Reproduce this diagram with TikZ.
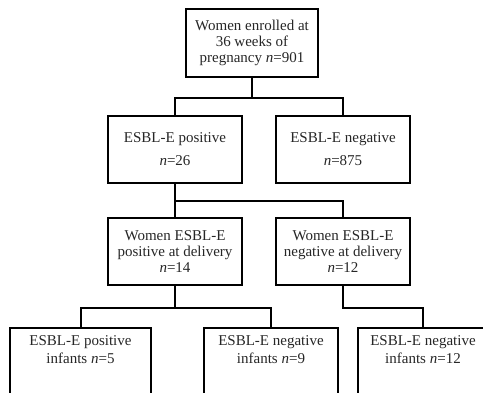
\documentclass[tikz,border=0pt]{standalone}
\usepackage{fontspec}
\setmainfont{Liberation Serif}
\usetikzlibrary{positioning}

\begin{document}
\begin{tikzpicture}[
  x=1pt, y=-1pt,
  box/.style={draw, line width=2pt, align=center, minimum width=134pt, minimum height=67pt, inner sep=2pt, text=black!85, font=\fontsize{15}{16.3}\selectfont},
  infant/.style={box, anchor=north, minimum height=0pt, inner ysep=7.5pt, text depth=48pt, font=\fontsize{15}{18.3}\selectfont},
  link/.style={line width=2pt}
]
\useasboundingbox (0,0) rectangle (483,392);

% Enrolment and first split
\node[box, minimum width=132pt, minimum height=67.5pt] (enrol) at (252,43) {Women enrolled at\\36 weeks of\\pregnancy \textit{n}=901};
\node[box] (pos) at (175,149.5) {ESBL-E positive\\[6.5pt]\textit{n}=26};
\node[box, right=32pt of pos] (neg) {ESBL-E negative\\[6.5pt]\textit{n}=875};

% At delivery
\node[box, below=33pt of pos] (wpos) {Women ESBL-E\\positive at delivery\\\textit{n}=14};
\node[box, below=33pt of neg] (wneg) {Women ESBL-E\\negative at delivery\\\textit{n}=12};

% Infants (boxes run off the bottom edge)
\node[infant, minimum width=141pt] (inf5) at (80.5,327) {ESBL-E positive\\infants \textit{n}=5};
\node[infant] (inf9) at (271,327) {ESBL-E negative\\infants \textit{n}=9};
\node[infant, minimum width=130pt] (inf12) at (423,327) {ESBL-E negative\\infants \textit{n}=12};

% Tree connectors
\draw[link] (enrol.south) -- ++(0,20) -| (pos.north);
\draw[link] (enrol.south) -- ++(0,20) -| (neg.north);
\draw[link] (pos.south) -- (wpos.north);
\draw[link] (pos.south) -- ++(0,17) -| (wneg.north);
\draw[link] (wpos.south) -- ++(0,22) -| (inf5.north);
\draw[link] (wpos.south) -- ++(0,22) -| (inf9.north);
\draw[link] (wneg.south) -- ++(0,22) -| (inf12.north);

\end{tikzpicture}
\end{document}
